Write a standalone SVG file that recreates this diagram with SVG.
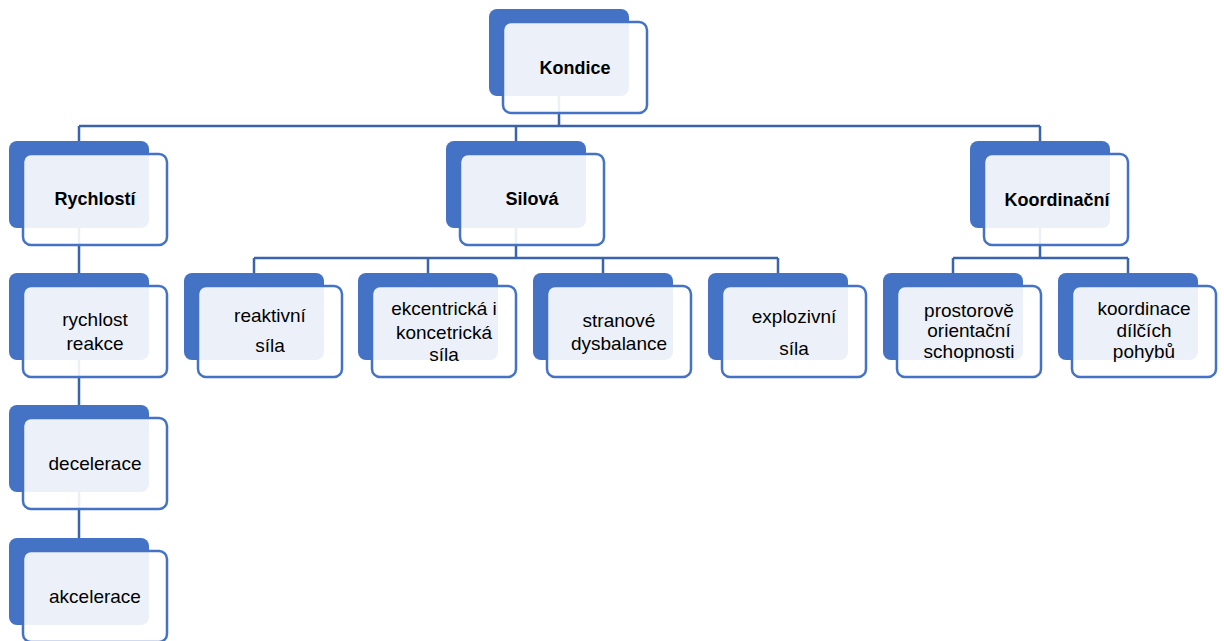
<svg xmlns="http://www.w3.org/2000/svg" width="1224" height="641" viewBox="0 0 1224 641">
<style>
.back{fill:#4472C4;}
.front{fill:#FFFFFF;fill-opacity:0.9;stroke:#4472C4;stroke-width:2.5;}
.conn{fill:none;stroke:#3A63AA;stroke-width:2.5;}
.t{font-family:"Liberation Sans",Arial,sans-serif;font-size:19px;fill:#000;text-anchor:middle;}
.b{font-family:"Liberation Sans",Arial,sans-serif;font-size:18px;font-weight:bold;fill:#000;text-anchor:middle;}
</style>
<rect width="1224" height="641" fill="#FFFFFF"/>
<g id="connectors">
<path class="conn" d="M559 96V126M79 126H1040M79 126V142M516 126V142M1040 126V142"/>
<path class="conn" d="M79 227V274M79 359V406M79 491V539"/>
<path class="conn" d="M516 227V258M254 258H778M254 258V274M428 258V274M603 258V274M778 258V274"/>
<path class="conn" d="M1040 227V258M953 258H1128M953 258V274M1128 258V274"/>
</g>
<g id="kondice">
<rect class="back" x="489" y="9" width="140" height="87" rx="8"/>
<rect class="front" x="503" y="22" width="144" height="91" rx="8"/>
<text class="b" x="575" y="74">Kondice</text>
</g>
<g id="rychlosti">
<rect class="back" x="9" y="141" width="140" height="87" rx="8"/>
<rect class="front" x="23" y="154" width="144" height="91" rx="8"/>
<text class="b" x="95" y="205">Rychlostí</text>
</g>
<g id="silova">
<rect class="back" x="446" y="141" width="140" height="87" rx="8"/>
<rect class="front" x="460" y="154" width="144" height="91" rx="8"/>
<text class="b" x="532" y="205">Silová</text>
</g>
<g id="koordinacni">
<rect class="back" x="970" y="141" width="140" height="87" rx="8"/>
<rect class="front" x="984" y="154" width="144" height="91" rx="8"/>
<text class="b" x="1057" y="206">Koordinační</text>
</g>
<g id="rychlost-reakce">
<rect class="back" x="9" y="273" width="140" height="87" rx="8"/>
<rect class="front" x="23" y="286" width="144" height="91" rx="8"/>
<text class="t" x="95" y="326">rychlost</text>
<text class="t" x="95" y="350">reakce</text>
</g>
<g id="decelerace">
<rect class="back" x="9" y="405" width="140" height="87" rx="8"/>
<rect class="front" x="23" y="418" width="144" height="91" rx="8"/>
<text class="t" x="95" y="470">decelerace</text>
</g>
<g id="akcelerace">
<rect class="back" x="9" y="538" width="140" height="87" rx="8"/>
<rect class="front" x="23" y="551" width="144" height="91" rx="8"/>
<text class="t" x="95" y="603">akcelerace</text>
</g>
<g id="reaktivni-sila">
<rect class="back" x="184" y="273" width="140" height="87" rx="8"/>
<rect class="front" x="198" y="286" width="144" height="91" rx="8"/>
<text class="t" x="270" y="322">reaktivní</text>
<text class="t" x="270" y="352">síla</text>
</g>
<g id="ekcentricka">
<rect class="back" x="358" y="273" width="140" height="87" rx="8"/>
<rect class="front" x="372" y="286" width="144" height="91" rx="8"/>
<text class="t" x="444" y="315">ekcentrická i</text>
<text class="t" x="444" y="339">koncetrická</text>
<text class="t" x="444" y="361">síla</text>
</g>
<g id="stranove">
<rect class="back" x="533" y="273" width="140" height="87" rx="8"/>
<rect class="front" x="547" y="286" width="144" height="91" rx="8"/>
<text class="t" x="619" y="327">stranové</text>
<text class="t" x="619" y="350">dysbalance</text>
</g>
<g id="explozivni">
<rect class="back" x="708" y="273" width="140" height="87" rx="8"/>
<rect class="front" x="722" y="286" width="144" height="91" rx="8"/>
<text class="t" x="794" y="323">explozivní</text>
<text class="t" x="794" y="355">síla</text>
</g>
<g id="prostorove">
<rect class="back" x="883" y="273" width="140" height="87" rx="8"/>
<rect class="front" x="897" y="286" width="144" height="91" rx="8"/>
<text class="t" x="969" y="317">prostorově</text>
<text class="t" x="969" y="337">orientační</text>
<text class="t" x="969" y="358">schopnosti</text>
</g>
<g id="koordinace">
<rect class="back" x="1058" y="273" width="140" height="87" rx="8"/>
<rect class="front" x="1072" y="286" width="144" height="91" rx="8"/>
<text class="t" x="1144" y="315">koordinace</text>
<text class="t" x="1144" y="337">dílčích</text>
<text class="t" x="1144" y="358">pohybů</text>
</g>
</svg>
